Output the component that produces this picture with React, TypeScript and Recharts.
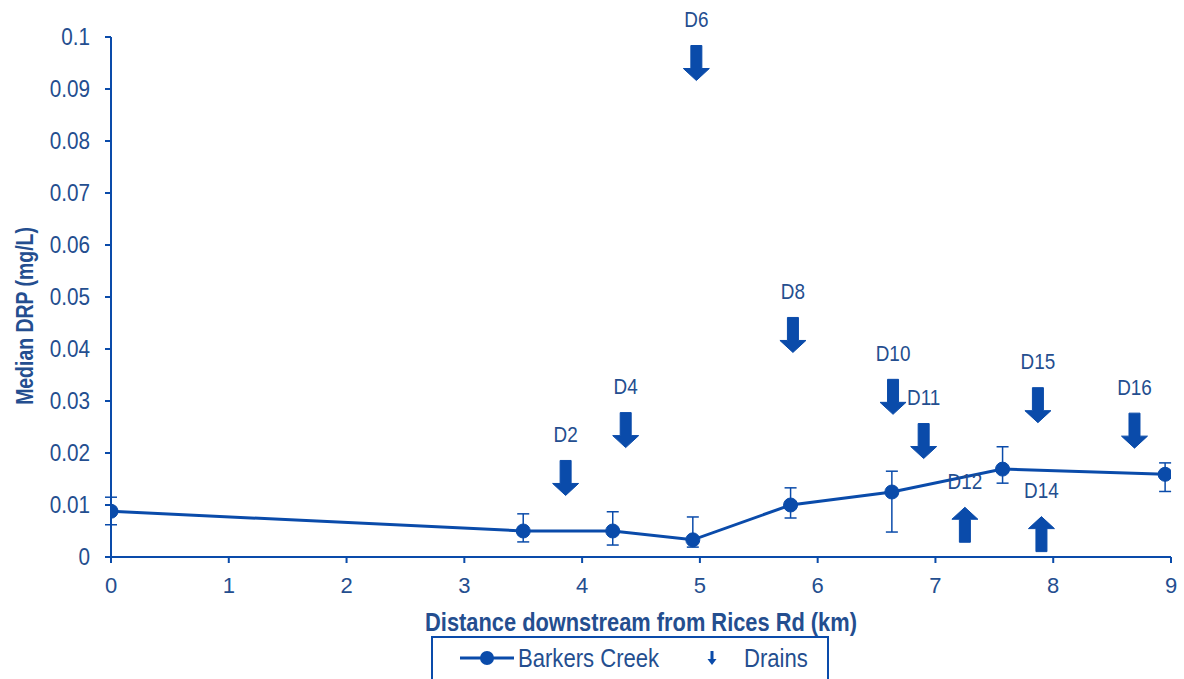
import { ComposedChart, Line, Scatter, XAxis, YAxis, ErrorBar, Legend, Label } from 'recharts';

const TEXT = '#244E8F';
const BLUE = '#0A4BAA';
const FONT = '"Liberation Sans", Arial, sans-serif';

// Barkers Creek sampling sites
const distanceKm = [0, 3.5, 4.26, 4.94, 5.77, 6.63, 7.57, 8.95];
const medianDrp = [0.0088, 0.005, 0.005, 0.0033, 0.01, 0.0125, 0.0169, 0.0159];
const errLow = [0.0026, 0.0021, 0.0027, 0.0014, 0.0025, 0.0077, 0.0027, 0.0033];
const errHigh = [0.0027, 0.0033, 0.0037, 0.0044, 0.0033, 0.004, 0.0043, 0.0022];

// Drain inflow markers
const drainNames = ['D2', 'D4', 'D6', 'D8', 'D10', 'D11', 'D12', 'D14', 'D15', 'D16'];
const drainKm = [3.86, 4.37, 4.97, 5.79, 6.64, 6.9, 7.25, 7.9, 7.87, 8.69];
const drainY = [0.0152, 0.0244, 0.095, 0.0427, 0.0308, 0.0223, 0.0062, 0.0044, 0.0292, 0.0243];
const drainDir = ['down', 'down', 'down', 'down', 'down', 'down', 'up', 'up', 'down', 'down'];

const xTicks = [0, 1, 2, 3, 4, 5, 6, 7, 8, 9];
const yTicks = [0, 0.01, 0.02, 0.03, 0.04, 0.05, 0.06, 0.07, 0.08, 0.09, 0.1];

const creekData = distanceKm.map((x, i) => ({
  x,
  y: medianDrp[i],
  err: [errLow[i], errHigh[i]],
}));

const drainData = drainNames.map((name, i) => ({
  name,
  x: drainKm[i],
  y: drainY[i],
  dir: drainDir[i],
}));

// no narrow font installed, so squeeze the regular one horizontally
function NText({ x, y, size, scale = 0.84, weight = 'normal', anchor = 'middle', rotate = 0, children }: any) {
  return (
    <text
      transform={`translate(${x} ${y}) rotate(${rotate}) scale(${scale} 1)`}
      x={0}
      y={0}
      textAnchor={anchor}
      dominantBaseline="central"
      fill={TEXT}
      fontFamily={FONT}
      fontWeight={weight}
      fontSize={size}
    >
      {children}
    </text>
  );
}

function DrainArrow(props: any) {
  const { cx, cy, payload } = props;
  if (cx == null || cy == null) return null;
  const s = payload.dir === 'up' ? -1 : 1;
  const half = 17.5;
  const shaft = 5.5;
  const head = 13;
  const headLen = 12;
  const pts = [
    [cx - shaft, cy - s * half],
    [cx + shaft, cy - s * half],
    [cx + shaft, cy + s * (half - headLen)],
    [cx + head, cy + s * (half - headLen)],
    [cx, cy + s * half],
    [cx - head, cy + s * (half - headLen)],
    [cx - shaft, cy + s * (half - headLen)],
  ]
    .map((p) => p.join(','))
    .join(' ');
  return (
    <g>
      <polygon points={pts} fill={BLUE} stroke={BLUE} strokeWidth={1} strokeLinejoin="round" />
      <NText x={cx} y={cy - 44} size={22} scale={0.86}>
        {payload.name}
      </NText>
    </g>
  );
}

function YTick(props: any) {
  const { x, y, payload } = props;
  return (
    <NText x={x} y={y} size={23} scale={0.9} anchor="end">
      {payload.value}
    </NText>
  );
}

function ChartLegend() {
  return (
    <svg width={400} height={44} style={{ display: 'block' }}>
      <rect x={1} y={1} width={396} height={60} fill="none" stroke={BLUE} strokeWidth={2} />
      <line x1={29} x2={83} y1={22} y2={22} stroke={BLUE} strokeWidth={3} />
      <circle cx={56} cy={22} r={7} fill={BLUE} />
      <NText x={87} y={22} size={26} anchor="start" scale={0.85}>
        Barkers Creek
      </NText>
      <polygon
        points="279.5,15 282.5,15 282.5,23 285.5,23 281,29 276.5,23 279.5,23"
        fill={BLUE}
      />
      <NText x={313} y={22} size={26} anchor="start" scale={0.85}>
        Drains
      </NText>
    </svg>
  );
}

export default function App() {
  return (
    <div style={{ position: 'absolute', left: 0, top: 0, width: 1184, height: 679, background: '#fff' }}>
      <ComposedChart width={1184} height={679} margin={{ top: 37, right: 13, bottom: 62, left: 0 }}>
        <XAxis
          dataKey="x"
          type="number"
          domain={[0, 9]}
          ticks={xTicks}
          allowDataOverflow
          height={60}
          tickSize={6}
          tickMargin={14}
          axisLine={{ stroke: BLUE, strokeWidth: 2 }}
          tickLine={{ stroke: BLUE, strokeWidth: 2 }}
          tick={{ fill: TEXT, fontSize: 22, fontFamily: FONT }}
        >
          <Label
            content={({ viewBox }: any) => (
              <NText x={viewBox.x + viewBox.width / 2} y={viewBox.y + 65} size={26} weight="bold" scale={0.84}>
                Distance downstream from Rices Rd (km)
              </NText>
            )}
          />
        </XAxis>
        <YAxis
          type="number"
          domain={[0, 0.1]}
          ticks={yTicks}
          width={111}
          tickSize={6}
          tickMargin={15}
          axisLine={{ stroke: BLUE, strokeWidth: 2 }}
          tickLine={{ stroke: BLUE, strokeWidth: 2 }}
          tick={<YTick />}
        >
          <Label
            content={({ viewBox }: any) => (
              <NText
                x={viewBox.x + 25}
                y={viewBox.y + viewBox.height / 2 + 19}
                rotate={-90}
                size={24}
                weight="bold"
                scale={0.81}
              >
                Median DRP (mg/L)
              </NText>
            )}
          />
        </YAxis>
        <Legend
          layout="horizontal"
          verticalAlign="middle"
          align="center"
          wrapperStyle={{ left: 431, top: 636, width: 400, height: 44 }}
          content={() => <ChartLegend />}
        />
        <Line
          data={creekData}
          dataKey="y"
          type="linear"
          stroke={BLUE}
          strokeWidth={3}
          dot={{ r: 7, fill: BLUE, stroke: BLUE, strokeWidth: 1 }}
          activeDot={false}
          isAnimationActive={false}
        >
          <ErrorBar dataKey="err" width={6} stroke={BLUE} strokeWidth={1.5} direction="y" />
        </Line>
        <Scatter data={drainData} dataKey="y" shape={DrainArrow} isAnimationActive={false} />
      </ComposedChart>
    </div>
  );
}
